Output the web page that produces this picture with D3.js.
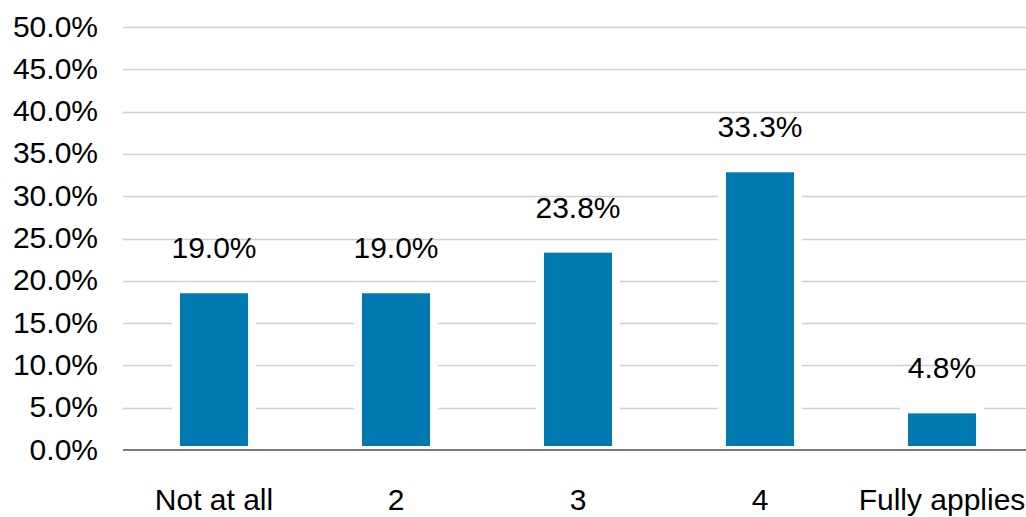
<!DOCTYPE html>
<html>
<head>
<meta charset="utf-8">
<script src="https://cdn.jsdelivr.net/npm/d3@7"></script>
<style>
  html, body { margin: 0; padding: 0; background: #fff; }
  svg { display: block; font-family: "Liberation Sans", Arial, sans-serif; }
</style>
</head>
<body>
<svg id="chart" width="1026" height="517"></svg>
<script>
const categories = ["Not at all", "2", "3", "4", "Fully applies"];
const values = [19.0, 19.0, 23.8, 33.3, 4.8];
const valueLabels = ["19.0%", "19.0%", "23.8%", "33.3%", "4.8%"];
const yTicks = [0, 5, 10, 15, 20, 25, 30, 35, 40, 45, 50];

const svg = d3.select("#chart");
const plotLeft = 123, plotRight = 1033, plotTop = 27, plotBottom = 450;

const x = d3.scaleBand().domain(categories).range([plotLeft, plotRight]).paddingInner(0.582).paddingOuter(0.291);
const y = d3.scaleLinear().domain([0, 50]).range([plotBottom, plotTop]);

// gridlines
svg.append("g").selectAll("line").data(yTicks.filter(d => d > 0)).join("line")
  .attr("x1", plotLeft).attr("x2", 1026)
  .attr("y1", d => Math.round(y(d)) + 0.5).attr("y2", d => Math.round(y(d)) + 0.5)
  .attr("stroke", "#d0d0d0").attr("stroke-width", 1.3);

// y tick labels via axis
const yAxis = svg.append("g").attr("transform", `translate(${plotLeft},0)`)
  .call(d3.axisLeft(y).tickValues(yTicks).tickFormat(d => d3.format(".1f")(d) + "%").tickSize(0).tickPadding(25));
yAxis.select(".domain").remove();
yAxis.selectAll("text").attr("font-size", 30).attr("fill", "#000")
  .attr("font-family", "'Liberation Sans', Arial, sans-serif").attr("dy", "0.3em");

// bars with white border
svg.append("g").selectAll("rect").data(values).join("rect")
  .attr("x", (d, i) => x(categories[i]))
  .attr("width", x.bandwidth())
  .attr("y", d => y(d))
  .attr("height", d => y(0) - y(d))
  .attr("fill", "#0079b0")
  .attr("stroke", "#fff").attr("stroke-width", 8);

// x axis line
svg.append("line").attr("x1", plotLeft).attr("x2", 1026).attr("y1", 450).attr("y2", 450)
  .attr("stroke", "#7a7a7a").attr("stroke-width", 2);

// x labels via axis
const xAxis = svg.append("g").attr("transform", `translate(0,${plotBottom})`)
  .call(d3.axisBottom(x).tickSize(0).tickPadding(0));
xAxis.select(".domain").remove();
xAxis.selectAll("text").attr("font-size", 30).attr("fill", "#000")
  .attr("font-family", "'Liberation Sans', Arial, sans-serif")
  .attr("dy", null).attr("y", 60);

// value labels
svg.append("g").selectAll("text").data(values).join("text")
  .attr("x", (d, i) => x(categories[i]) + x.bandwidth() / 2)
  .attr("y", d => y(d) - 31)
  .attr("text-anchor", "middle")
  .attr("font-size", 30).attr("fill", "#000")
  .text((d, i) => valueLabels[i]);
</script>
</body>
</html>
